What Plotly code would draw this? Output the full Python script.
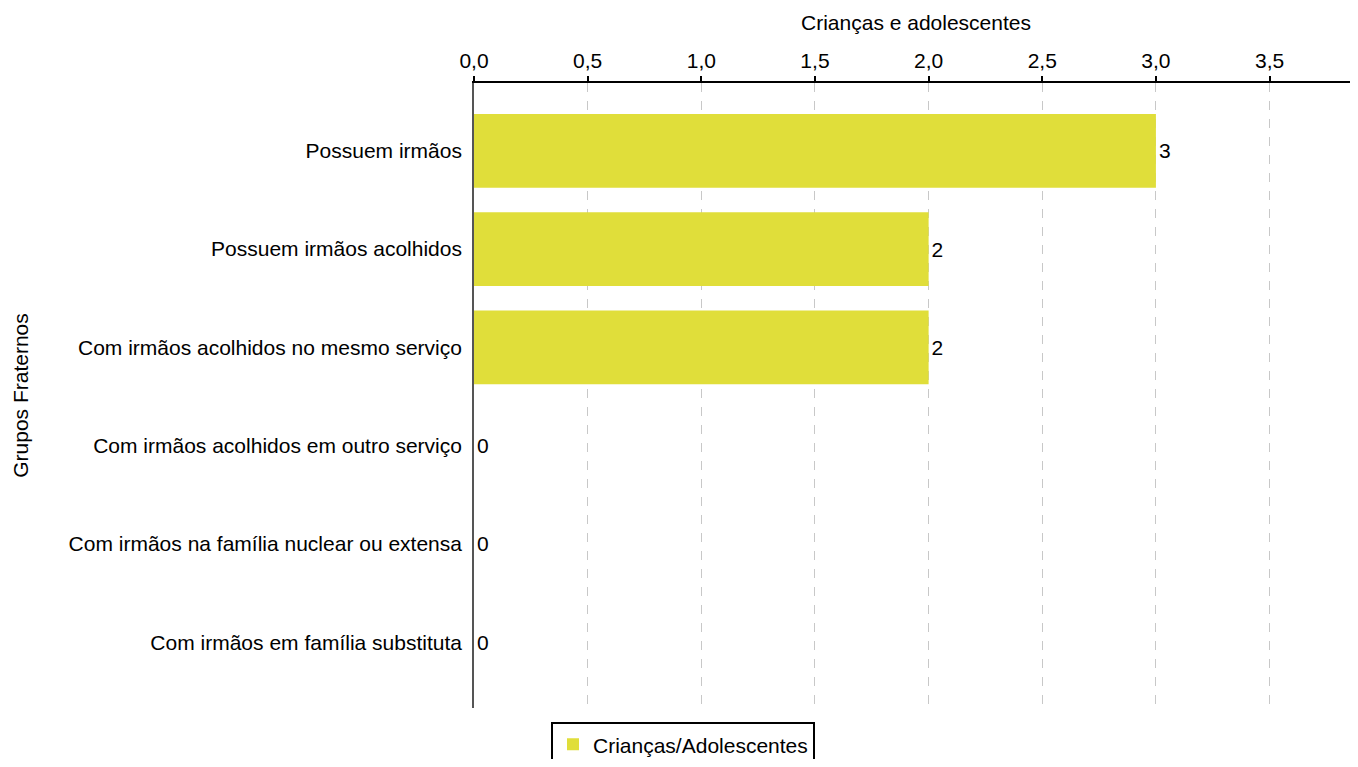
import plotly.graph_objects as go

categories = [
    "Possuem irmãos",
    "Possuem irmãos acolhidos",
    "Com irmãos acolhidos no mesmo serviço",
    "Com irmãos acolhidos em outro serviço",
    "Com irmãos na família nuclear ou extensa",
    "Com irmãos em família substituta",
]
values = [3, 2, 2, 0, 0, 0]
series_name = "Crianças/Adolescentes"
tick_vals = [0, 0.5, 1.0, 1.5, 2.0, 2.5, 3.0, 3.5]

FONT = "Liberation Sans, Arial, sans-serif"
FS = 21

fig = go.Figure()
fig.add_trace(go.Bar(
    y=categories,
    x=values,
    orientation="h",
    name=series_name,
    marker=dict(color="#E0DE3A", line=dict(width=0)),
    width=0.75,
    text=[str(v) for v in values],
    textposition="outside",
    textfont=dict(size=FS, color="#000000", family=FONT),
    cliponaxis=False,
    showlegend=True,
))

fig.update_layout(
    width=1350, height=751,
    margin=dict(l=466, r=0, t=75, b=51),
    paper_bgcolor="white",
    plot_bgcolor="white",
    font=dict(family=FONT, size=FS, color="#000000"),
    separators=",.",
    bargap=0.25,
    showlegend=True,
    legend=dict(
        orientation="h",
        xref="container", yref="container",
        x=0.5, xanchor="center",
        y=0.049, yanchor="top",
        bordercolor="#000000", borderwidth=2,
        font=dict(size=FS, family=FONT),
        bgcolor="white",
    ),
    xaxis=dict(
        side="top",
        range=[0, 3.889],
        tickvals=tick_vals,
        tickformat=".1f",
        showline=True, linecolor="#000000", linewidth=2,
        ticks="outside", ticklen=5, tickwidth=2, tickcolor="#000000",
        showgrid=True, gridcolor="#C8C8C8", griddash="dash", gridwidth=1,
        zeroline=False,
        tickfont=dict(size=FS),
        title=dict(text="Crianças e adolescentes", font=dict(size=FS), standoff=12),
    ),
    yaxis=dict(
        categoryorder="array",
        categoryarray=categories,
        autorange=False,
        range=[5.67, -0.69],
        showline=True, linecolor="#555555", linewidth=2,
        ticks="", showgrid=False,
        tickfont=dict(size=FS),
        ticksuffix=" ",
        title=dict(text="Grupos Fraternos", font=dict(size=FS), standoff=34),
    ),
)

fig.write_html("out.html")
